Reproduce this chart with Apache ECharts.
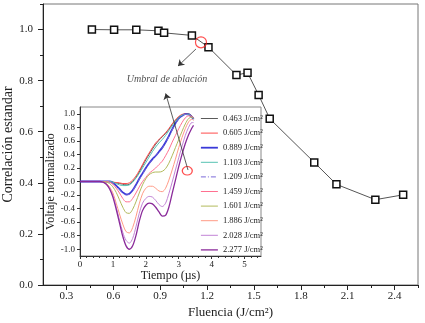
<!DOCTYPE html>
<html><head><meta charset="utf-8">
<script src="https://cdn.jsdelivr.net/npm/echarts@6/dist/echarts.min.js"></script>
<style>html,body{margin:0;padding:0;background:#fff}#c{width:425px;height:323px}</style>
</head><body><div id="c"></div>
<script>
// Main chart data
const fluence = [0.463,0.605,0.747,0.889,0.925,1.103,1.209,1.388,1.459,1.530,1.601,1.886,2.028,2.277,2.455];
const correlation = [1.000,0.999,0.999,0.995,0.987,0.977,0.931,0.822,0.831,0.744,0.651,0.480,0.394,0.334,0.353];
const mainXTicks = [0.3,0.6,0.9,1.2,1.5,1.8,2.1,2.4];
const mainXMinor = [0.45,0.75,1.05,1.35,1.65,1.95,2.25,2.55];
const mainYTicks = [0.0,0.2,0.4,0.6,0.8,1.0];
const mainYMinor = [0.1,0.3,0.5,0.7,0.9,1.1];
// Inset data
const time = [0,0.2,0.4,0.6,0.7,0.8,0.9,1.0,1.1,1.2,1.3,1.4,1.5,1.6,1.7,1.8,1.9,2.0,2.1,2.2,2.3,2.4,2.5,2.6,2.7,2.8,2.9,3.0,3.1,3.2,3.3,3.4,3.45];
const curveNames = ['0.463','0.605','0.889','1.103','1.209','1.459','1.601','1.886','2.028','2.277'];
const v0463 = [0,0,0,0,0,0,0,-0.01,-0.02,-0.03,-0.04,-0.05,-0.04,0.0,0.06,0.14,0.23,0.32,0.40,0.48,0.55,0.61,0.66,0.71,0.77,0.84,0.90,0.95,0.98,1.0,1.0,0.97,0.94];
const v0605 = [0,0,0,0,0,0,0,-0.01,-0.015,-0.02,-0.03,-0.03,-0.02,0.02,0.08,0.16,0.25,0.34,0.42,0.50,0.57,0.62,0.67,0.72,0.78,0.85,0.91,0.96,0.99,1.0,0.99,0.96,0.93];
const v0889 = [0,0,0,0,0,0,0,-0.02,-0.06,-0.11,-0.16,-0.19,-0.18,-0.13,-0.05,0.04,0.12,0.20,0.27,0.33,0.38,0.44,0.50,0.58,0.67,0.77,0.86,0.93,0.97,0.995,0.99,0.95,0.92];
const v1103 = [0,0,0,0,0,0,0,-0.01,-0.03,-0.05,-0.06,-0.06,-0.05,-0.01,0.05,0.12,0.20,0.28,0.36,0.44,0.51,0.57,0.62,0.68,0.75,0.82,0.89,0.94,0.98,0.99,0.99,0.95,0.92];
const v1209 = [0,0,0,0,0,0,-0.01,-0.03,-0.07,-0.12,-0.17,-0.20,-0.19,-0.14,-0.06,0.03,0.11,0.19,0.26,0.32,0.38,0.43,0.49,0.57,0.66,0.76,0.85,0.92,0.97,0.99,0.99,0.96,0.93];
const v1459 = [0,0,0,0,0,0,-0.01,-0.04,-0.10,-0.17,-0.25,-0.30,-0.30,-0.25,-0.17,-0.08,0.0,0.06,0.12,0.16,0.20,0.25,0.30,0.38,0.47,0.58,0.68,0.78,0.87,0.94,0.97,0.96,0.94];
const v1601 = [0,0,0,0,0,-0.01,-0.03,-0.08,-0.16,-0.27,-0.38,-0.46,-0.47,-0.41,-0.30,-0.17,-0.05,0.04,0.10,0.13,0.14,0.14,0.15,0.19,0.27,0.38,0.50,0.62,0.74,0.85,0.93,0.95,0.93];
const v1886 = [0,0,0,0,-0.01,-0.03,-0.08,-0.17,-0.32,-0.48,-0.63,-0.74,-0.76,-0.68,-0.52,-0.33,-0.18,-0.10,-0.07,-0.07,-0.10,-0.14,-0.15,-0.10,0.02,0.17,0.33,0.50,0.65,0.78,0.88,0.92,0.90];
const v2028 = [0,0,0,0,-0.01,-0.04,-0.10,-0.21,-0.38,-0.57,-0.75,-0.87,-0.91,-0.84,-0.67,-0.47,-0.32,-0.25,-0.22,-0.23,-0.28,-0.34,-0.37,-0.32,-0.18,-0.01,0.17,0.35,0.52,0.68,0.80,0.87,0.87];
const v2277 = [0,0,0,0,-0.01,-0.04,-0.11,-0.23,-0.41,-0.61,-0.81,-0.95,-1.0,-0.95,-0.80,-0.59,-0.43,-0.35,-0.32,-0.33,-0.38,-0.45,-0.51,-0.50,-0.38,-0.18,0.02,0.22,0.40,0.56,0.69,0.79,0.83];
const curveValues = [v0463,v0605,v0889,v1103,v1209,v1459,v1601,v1886,v2028,v2277];
const curveColors = ['#5a5a5a','#ff4a4a','#3a3ad8','#55c2b2','#7a68d8','#ff7090','#b2ba5c','#ff9a86','#c284d6','#8a2a9a'];
const curveWidths = [1,1,1.8,1,1,1,1,1,1,1.3];
const insetXTicks = [0,1,2,3,4,5];
const insetYTicks = [-1.0,-0.8,-0.6,-0.4,-0.2,0.0,0.2,0.4,0.6,0.8,1.0];
// Annotation anchors (data coordinates)
const thresholdMark = [1.161, 0.950];
const insetMark = [3.26, 0.158];
const labelPos = [0.944, 0.806];
const arrow1 = [[1.129, 0.924],[1.014, 0.857]];
const arrow2 = [[1.078, 0.450],[0.935, 0.750]];

const FF = 'Liberation Serif';
const TXT = '#222';
const chart = echarts.init(document.getElementById('c'), null, {renderer:'canvas'});

const insetSeries = curveNames.map((n,i)=>({
  name: n + ' J/cm²', type:'line', xAxisIndex:2, yAxisIndex:2,
  data: time.map((t,k)=>[t, curveValues[i][k]]),
  showSymbol:false, symbol:'none', smooth:0.3, z:5,
  lineStyle:{color:curveColors[i], width:curveWidths[i], type: i===4 ? [5,2,1,2] : 'solid'},
  itemStyle:{color:curveColors[i]}
}));

const option = {
  animation:false,
  grid:[
    {left:43, top:4, right:7, bottom:38, show:true, borderColor:'#777', borderWidth:1, outerBoundsMode:'none', containLabel:false},
    {left:80, top:107, width:181, height:149, show:true, backgroundColor:'#fff', borderColor:'#888', borderWidth:1, z:3, outerBoundsMode:'none', containLabel:false}
  ],
  xAxis:[
    {type:'value', gridIndex:0, min:0.15, max:2.55, position:'bottom',
     axisLine:{onZero:false, lineStyle:{color:'#222', width:1}},
     axisTick:{show:true, length:5, customValues:mainXTicks, lineStyle:{color:'#222'}},
     axisLabel:{customValues:mainXTicks, margin:6, formatter:v=>v.toFixed(1), fontFamily:FF, fontSize:11, color:TXT},
     splitLine:{show:false},
     name:'Fluencia (J/cm²)', nameLocation:'middle', nameGap:21, nameMoveOverlap:false, nameTextStyle:{fontFamily:FF, fontSize:13, color:TXT}},
    {type:'value', gridIndex:0, min:0.15, max:2.55, position:'bottom', offset:0,
     axisLine:{show:false, onZero:false}, axisLabel:{show:false},
     axisTick:{show:true, length:3, customValues:mainXMinor, lineStyle:{color:'#222'}}, splitLine:{show:false}},
    {type:'value', gridIndex:1, min:0, max:5.5, interval:1, position:'bottom',
     axisLine:{onZero:false, lineStyle:{color:'#333', width:1}},
     axisTick:{show:true, length:3, customValues:insetXTicks, lineStyle:{color:'#333'}},
     minorTick:{show:true, splitNumber:5, length:2, lineStyle:{color:'#333'}},
     axisLabel:{customValues:insetXTicks, margin:4, fontFamily:FF, fontSize:9, color:TXT},
     splitLine:{show:false}, minorSplitLine:{show:false},
     name:'Tiempo (µs)', nameLocation:'middle', nameGap:14, nameMoveOverlap:false, nameTextStyle:{fontFamily:FF, fontSize:12, color:TXT}, z:4}
  ],
  yAxis:[
    {type:'value', gridIndex:0, min:0, max:1.1, position:'left',
     axisLine:{onZero:false, lineStyle:{color:'#222', width:1}},
     axisTick:{show:true, length:5, customValues:mainYTicks, lineStyle:{color:'#222'}},
     axisLabel:{customValues:mainYTicks, margin:10, formatter:v=>v.toFixed(1), fontFamily:FF, fontSize:11, color:TXT},
     splitLine:{show:false},
     name:'Correlación estandar', nameLocation:'middle', nameGap:28, nameMoveOverlap:false, nameRotate:90, nameTextStyle:{fontFamily:FF, fontSize:14, color:TXT}},
    {type:'value', gridIndex:0, min:0, max:1.1, position:'left', offset:0,
     axisLine:{show:false, onZero:false}, axisLabel:{show:false},
     axisTick:{show:true, length:3, customValues:mainYMinor, lineStyle:{color:'#222'}}, splitLine:{show:false}},
    {type:'value', gridIndex:1, min:-1.1, max:1.1, position:'left',
     axisLine:{onZero:false, lineStyle:{color:'#333', width:1}},
     axisTick:{show:true, length:3, customValues:insetYTicks, lineStyle:{color:'#333'}},
     axisLabel:{customValues:insetYTicks, margin:5, formatter:v=>v.toFixed(1), fontFamily:FF, fontSize:9, color:TXT},
     splitLine:{show:false},
     name:'Voltaje normalizado', nameLocation:'middle', nameGap:23, nameMoveOverlap:false, nameRotate:90, nameTextStyle:{fontFamily:FF, fontSize:12, color:TXT}, z:4}
  ],
  legend:{
    data: curveNames.map((n,i)=>({name:n+' J/cm²', lineStyle:{width:curveWidths[i]}})),
    orient:'vertical', left:200, top:114,
    itemWidth:17, itemHeight:8, itemGap:5.6, padding:0, selectedMode:false, z:6,
    itemStyle:{opacity:0, borderWidth:0},
    textStyle:{fontFamily:FF, fontSize:8.5, color:TXT}
  },
  series:[
    {type:'line', xAxisIndex:0, yAxisIndex:0, data: fluence.map((x,i)=>[x, correlation[i]]),
     symbol:'rect', symbolSize:7, lineStyle:{color:'#555', width:1},
     itemStyle:{color:'#fff', borderColor:'#111', borderWidth:1.5}, z:4},
    ...insetSeries,
    {type:'scatter', xAxisIndex:0, yAxisIndex:0, data:[thresholdMark], symbol:'circle', symbolSize:11,
     itemStyle:{color:'rgba(0,0,0,0)', borderColor:'#ff2020', borderWidth:1.2}, z:8, silent:true},
    {type:'scatter', xAxisIndex:2, yAxisIndex:2, data:[insetMark], symbol:'circle', symbolSize:[10,8.5],
     itemStyle:{color:'rgba(0,0,0,0)', borderColor:'#ff2020', borderWidth:1.2}, z:8, silent:true},
    {type:'lines', coordinateSystem:'cartesian2d', xAxisIndex:0, yAxisIndex:0, z:20,
     symbol:['none','arrow'], symbolSize:6,
     lineStyle:{color:'#333', width:0.8, opacity:1},
     data:[{coords:arrow1},{coords:arrow2}]},
    {type:'scatter', xAxisIndex:0, yAxisIndex:0, data:[labelPos], symbolSize:0, z:20, silent:true,
     label:{show:true, position:'inside', formatter:'Umbral de ablación', fontFamily:FF, fontStyle:'italic', fontSize:10, color:TXT}}
  ]
};
chart.setOption(option);
</script>
</body></html>
